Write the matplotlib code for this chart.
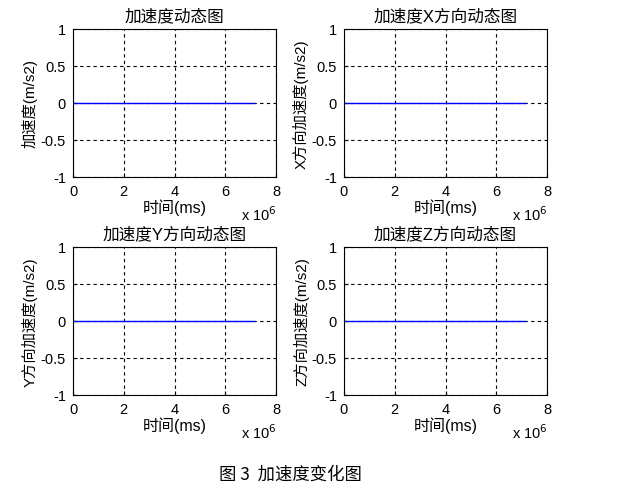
import matplotlib
matplotlib.use("Agg")
import matplotlib.pyplot as plt

plt.rcParams['font.family'] = ['Liberation Sans', 'Noto Sans CJK SC']
plt.rcParams['axes.unicode_minus'] = False

# ---- data ----
time_ms = [0, 7.15e6]
acc_total = [0, 0]
acc_x = [0, 0]
acc_y = [0, 0]
acc_z = [0, 0]

titles = ["加速度动态图", "加速度X方向动态图", "加速度Y方向动态图", "加速度Z方向动态图"]
ylabels = ["加速度(m/s2)", "X方向加速度(m/s2)", "Y方向加速度(m/s2)", "Z方向加速度(m/s2)"]
series = [acc_total, acc_x, acc_y, acc_z]
xticks = [0, 2, 4, 6, 8]
yticks = [-1, -0.5, 0, 0.5, 1]
ytick_labels = ["-1", "-0.5", "0", "0.5", "1"]

W, H = 633, 502
fig = plt.figure(figsize=(W / 100, H / 100), dpi=100)

# axes boxes in pixels: left, top, right, bottom
boxes = [(73, 30, 276, 178), (344, 30, 547, 178),
         (73, 248, 276, 396), (344, 248, 547, 396)]

for box, title, ylab, vals in zip(boxes, titles, ylabels, series):
    l, t, r, b = box
    ax = fig.add_axes([l / W, 1 - b / H, (r - l) / W, (b - t) / H])
    ax.plot([v / 1e6 for v in time_ms], vals, color="#0000ff", lw=1)
    ax.set_xlim(0, 8)
    ax.set_ylim(-1, 1)
    ax.set_xticks(xticks)
    ax.set_yticks(yticks)
    ax.set_yticklabels(ytick_labels)
    ax.grid(True, color="black", linestyle=(0, (3, 3)), lw=0.8)
    ax.tick_params(direction="in", length=3, labelsize=10.5, pad=5)
    for s in ax.spines.values():
        s.set_linewidth(0.8)
    ax.set_title(title, fontsize=12, pad=6)
    ax.set_xlabel("时间(ms)", fontsize=11.5, labelpad=0)
    ax.set_ylabel(ylab, fontsize=11, labelpad=2)
    ax.text(0.83, -0.245, "x 10$^{6}$", transform=ax.transAxes, fontsize=10.5,
            ha="left", va="center")

fig.text(290 / W, 1 - 475 / H, "图 3  加速度变化图", ha="center", va="center",
         fontsize=12.5, family=['Noto Sans CJK SC'])

fig.savefig("out.png", dpi=100, facecolor="white")
